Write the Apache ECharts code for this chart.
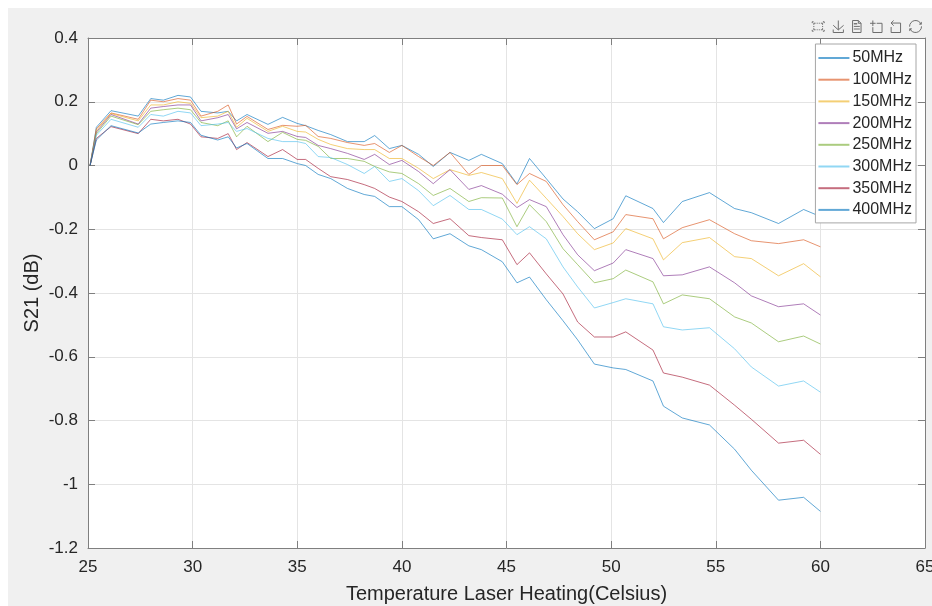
<!DOCTYPE html>
<html>
<head>
<meta charset="utf-8">
<title>S21 vs Temperature</title>
<script src="https://cdn.jsdelivr.net/npm/echarts@6/dist/echarts.min.js"></script>
<style>
  html, body { margin: 0; padding: 0; background: #ffffff; overflow: hidden; }
  #chart { width: 932px; height: 606px; }
</style>
</head>
<body>
<div id="chart"></div>
<script>
// Laser heating temperature (Celsius) at each measurement
const temps = [25.1, 25.4, 26.1, 27.4, 28.0, 28.6, 29.3, 29.9, 30.4, 31.2,
               31.7, 32.1, 32.6, 33.6, 34.3, 35.0, 35.4, 36.0, 36.6, 37.4,
               38.2, 38.7, 39.4, 40.0, 40.8, 41.5, 42.3, 43.2, 43.8, 44.8,
               45.5, 46.1, 46.9, 47.7, 48.4, 49.2, 50.1, 50.7, 52.0, 52.5,
               53.4, 54.7, 55.9, 56.7, 58.0, 59.2, 60.0];

// S21 change (dB) per frequency
const s21_50MHz = [0, 0.120, 0.172, 0.155, 0.210, 0.205, 0.220, 0.215, 0.170, 0.165,
                   0.170, 0.140, 0.160, 0.129, 0.151, 0.132, 0.125, 0.110, 0.097, 0.075,
                   0.075, 0.094, 0.053, 0.063, 0.035, -0.003, 0.041, 0.016, 0.035, 0.006,
                   -0.058, 0.022, -0.041, -0.105, -0.145, -0.198, -0.167, -0.095, -0.135, -0.179,
                   -0.113, -0.085, -0.135, -0.148, -0.182, -0.138, -0.160];
const s21_100MHz = [0, 0.115, 0.165, 0.145, 0.205, 0.200, 0.210, 0.205, 0.155, 0.170,
                    0.190, 0.130, 0.154, 0.113, 0.126, 0.123, 0.126, 0.091, 0.085, 0.072,
                    0.063, 0.069, 0.041, 0.063, 0.028, 0.000, 0.041, -0.028, 0.000, 0.000,
                    -0.060, -0.025, -0.050, -0.123, -0.176, -0.233, -0.208, -0.154, -0.167, -0.230,
                    -0.195, -0.170, -0.214, -0.236, -0.245, -0.233, -0.255];
const s21_150MHz = [0, 0.110, 0.163, 0.140, 0.190, 0.190, 0.200, 0.195, 0.150, 0.155,
                    0.170, 0.120, 0.148, 0.107, 0.123, 0.107, 0.105, 0.082, 0.066, 0.053,
                    0.050, 0.050, 0.022, 0.022, -0.009, -0.041, -0.013, -0.031, -0.022, -0.041,
                    -0.119, -0.046, -0.103, -0.160, -0.214, -0.264, -0.243, -0.198, -0.230, -0.296,
                    -0.242, -0.226, -0.286, -0.292, -0.346, -0.308, -0.349];
const s21_200MHz = [0, 0.105, 0.160, 0.130, 0.180, 0.185, 0.190, 0.190, 0.140, 0.150,
                    0.160, 0.115, 0.135, 0.101, 0.107, 0.091, 0.088, 0.063, 0.053, 0.038,
                    0.019, 0.035, 0.003, 0.016, -0.019, -0.057, -0.013, -0.075, -0.063, -0.090,
                    -0.132, -0.107, -0.129, -0.217, -0.280, -0.330, -0.306, -0.264, -0.292, -0.346,
                    -0.343, -0.318, -0.368, -0.409, -0.443, -0.434, -0.469];
const s21_250MHz = [0, 0.100, 0.155, 0.128, 0.170, 0.175, 0.180, 0.175, 0.135, 0.125,
                    0.140, 0.090, 0.123, 0.075, 0.104, 0.082, 0.079, 0.060, 0.022, 0.022,
                    0.013, -0.003, -0.020, -0.025, -0.057, -0.094, -0.072, -0.113, -0.101, -0.102,
                    -0.192, -0.123, -0.176, -0.261, -0.311, -0.368, -0.355, -0.328, -0.365, -0.434,
                    -0.406, -0.418, -0.475, -0.494, -0.553, -0.535, -0.560];
const s21_300MHz = [0, 0.095, 0.145, 0.120, 0.160, 0.155, 0.170, 0.165, 0.125, 0.130,
                    0.135, 0.107, 0.116, 0.085, 0.075, 0.075, 0.069, 0.028, 0.025, 0.003,
                    -0.025, -0.003, -0.050, -0.041, -0.079, -0.126, -0.094, -0.138, -0.138, -0.168,
                    -0.217, -0.192, -0.230, -0.318, -0.381, -0.447, -0.430, -0.418, -0.434, -0.506,
                    -0.516, -0.509, -0.575, -0.632, -0.692, -0.676, -0.711];
const s21_350MHz = [0, 0.085, 0.122, 0.100, 0.145, 0.140, 0.145, 0.130, 0.090, 0.085,
                    0.100, 0.050, 0.072, 0.028, 0.050, 0.019, 0.019, -0.009, -0.035, -0.044,
                    -0.060, -0.072, -0.099, -0.113, -0.145, -0.182, -0.167, -0.220, -0.226, -0.233,
                    -0.311, -0.274, -0.340, -0.403, -0.491, -0.538, -0.538, -0.522, -0.579, -0.651,
                    -0.664, -0.689, -0.752, -0.796, -0.871, -0.862, -0.906];
const s21_400MHz = [0, 0.080, 0.125, 0.102, 0.130, 0.135, 0.140, 0.135, 0.095, 0.080,
                    0.090, 0.055, 0.069, 0.022, 0.022, 0.006, 0.000, -0.028, -0.041, -0.072,
                    -0.091, -0.097, -0.129, -0.129, -0.170, -0.230, -0.214, -0.252, -0.264, -0.302,
                    -0.368, -0.350, -0.421, -0.487, -0.547, -0.623, -0.635, -0.640, -0.676, -0.755,
                    -0.792, -0.814, -0.890, -0.956, -1.050, -1.041, -1.085];

const seriesNames = ['50MHz', '100MHz', '150MHz', '200MHz', '250MHz', '300MHz', '350MHz', '400MHz'];
const seriesValues = [s21_50MHz, s21_100MHz, s21_150MHz, s21_200MHz,
                      s21_250MHz, s21_300MHz, s21_350MHz, s21_400MHz];

// Axis ranges and tick steps
const xMin = 25, xMax = 65, xStep = 5;
const yMin = -1.2, yMax = 0.4, yStep = 0.2;

const lineColors = ['#0072BD', '#D95319', '#EDB120', '#7E2F8E',
                    '#77AC30', '#4DBEEE', '#A2142F', '#0072BD'];

const FONT = '"Liberation Sans", Arial, Helvetica, sans-serif';
const TEXT = '#262626';
const AXIS = '#7f7f7f';

const chart = echarts.init(document.getElementById('chart'), null, { renderer: 'canvas', width: 932, height: 606 });

const series = seriesNames.map((name, i) => ({
  name: name,
  type: 'line',
  xAxisIndex: 0,
  yAxisIndex: 0,
  data: temps.map((t, k) => [t, seriesValues[i][k]]),
  showSymbol: false,
  symbol: 'none',
  lineStyle: { width: 1, color: lineColors[i], opacity: 0.62 },
  itemStyle: { color: lineColors[i], opacity: 0.62 },
  emphasis: { disabled: true },
  z: 3
}));

const option = {
  animation: false,
  backgroundColor: '#ffffff',
  graphic: [{
    type: 'rect',
    silent: true,
    z: -10,
    shape: { x: 8, y: 8, width: 924, height: 598 },
    style: { fill: '#f0f0f0' }
  }],
  toolbox: {
    show: true,
    right: 6,
    top: 16,
    itemSize: 12,
    itemGap: 4,
    padding: 2,
    iconStyle: { borderColor: '#6e6e6e', borderWidth: 1 },
    feature: {
      brush: {},
      saveAsImage: { title: '' },
      dataView: { title: '', readOnly: true },
      dataZoom: { title: { zoom: '', back: '' } },
      restore: { title: '' }
    }
  },
  brush: { toolbox: ['rect'], xAxisIndex: 0 },
  grid: {
    left: 88, right: 7, top: 38, bottom: 58,
    show: true, backgroundColor: '#ffffff', borderWidth: 0,
    containLabel: false,
    outerBoundsMode: 'none'
  },
  legend: {
    data: seriesNames,
    orient: 'vertical',
    right: 16,
    top: 44,
    icon: 'rect',
    itemWidth: 31,
    itemHeight: 2,
    itemGap: 5.7,
    padding: [6, 4, 5, 3],
    backgroundColor: '#ffffff',
    borderColor: '#a6a6a6',
    borderWidth: 1,
    borderRadius: 0,
    textStyle: { fontFamily: FONT, fontSize: 16, color: TEXT, lineHeight: 16, padding: [0, 0, 0, -2] },
    selectedMode: false
  },
  xAxis: [{
    type: 'value',
    min: xMin, max: xMax, interval: xStep,
    position: 'bottom',
    name: 'Temperature Laser Heating(Celsius)',
    nameLocation: 'middle',
    nameGap: 36,
    nameTextStyle: { fontFamily: FONT, fontSize: 20, color: TEXT },
    axisLine: { show: true, onZero: false, lineStyle: { color: AXIS, width: 1 } },
    axisTick: { show: true, inside: true, length: 7, lineStyle: { color: AXIS } },
    axisLabel: { fontFamily: FONT, fontSize: 17, color: TEXT, margin: 11 },
    splitLine: { show: true, lineStyle: { color: '#e4e4e4', width: 1 } }
  }, {
    type: 'value',
    min: xMin, max: xMax, interval: xStep,
    position: 'top',
    axisLine: { show: true, onZero: false, lineStyle: { color: AXIS, width: 1 } },
    axisTick: { show: true, inside: true, length: 7, lineStyle: { color: AXIS } },
    axisLabel: { show: false },
    splitLine: { show: false }
  }],
  yAxis: [{
    type: 'value',
    min: yMin, max: yMax, interval: yStep,
    position: 'left',
    name: 'S21 (dB)',
    nameLocation: 'middle',
    nameGap: 46,
    nameMoveOverlap: false,
    nameTextStyle: { fontFamily: FONT, fontSize: 20, color: TEXT },
    axisLine: { show: true, onZero: false, lineStyle: { color: AXIS, width: 1 } },
    axisTick: { show: true, inside: true, length: 7, lineStyle: { color: AXIS } },
    axisLabel: { fontFamily: FONT, fontSize: 17, color: TEXT, margin: 10 },
    splitLine: { show: true, lineStyle: { color: '#e4e4e4', width: 1 } }
  }, {
    type: 'value',
    min: yMin, max: yMax, interval: yStep,
    position: 'right',
    axisLine: { show: true, onZero: false, lineStyle: { color: AXIS, width: 1 } },
    axisTick: { show: true, inside: true, length: 7, lineStyle: { color: AXIS } },
    axisLabel: { show: false },
    splitLine: { show: false }
  }],
  series: series
};

chart.setOption(option);
</script>
</body>
</html>
